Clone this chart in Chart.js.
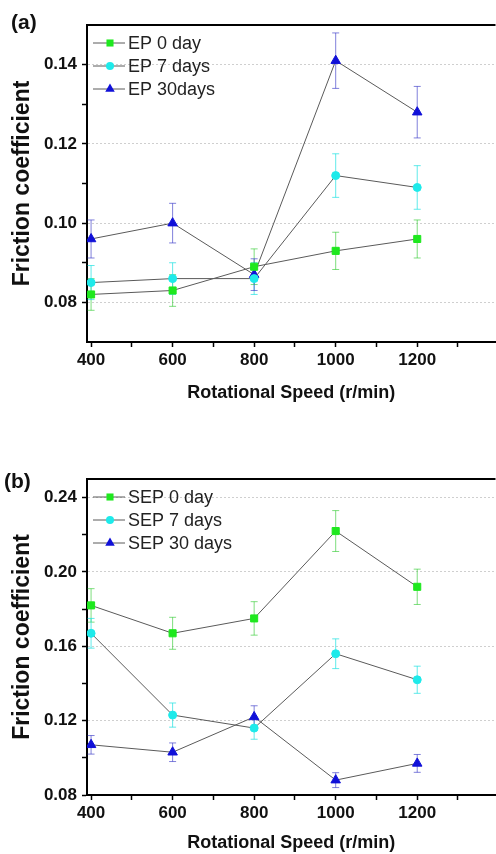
<!DOCTYPE html>
<html>
<head>
<meta charset="utf-8">
<title>Friction coefficient vs rotational speed</title>
<script src="https://cdn.jsdelivr.net/npm/chart.js@4.4.1/dist/chart.umd.min.js"></script>
<style>
    html, body { margin: 0; background: #fff; overflow: hidden; }
    .panel { position: relative; width: 502px; }
    #panelA { height: 420px; }
    #panelB { height: 434px; }
</style>
</head>
<body>
<div class="panel" id="panelA"><canvas id="chartA"></canvas></div>
<div class="panel" id="panelB"><canvas id="chartB"></canvas></div>
<script>
// ===== DATA =====
const speeds = [400, 600, 800, 1000, 1200];

const ep0 = [0.082, 0.083, 0.089, 0.093, 0.096];
const ep0Err = [0.004, 0.004, 0.0045, 0.0047, 0.0048];
const ep7 = [0.085, 0.086, 0.086, 0.112, 0.109];
const ep7Err = [0.0043, 0.004, 0.004, 0.0055, 0.0055];
const ep30 = [0.096, 0.100, 0.087, 0.141, 0.128];
const ep30Err = [0.0048, 0.005, 0.004, 0.007, 0.0065];

const sep0 = [0.182, 0.167, 0.175, 0.222, 0.192];
const sep0Err = [0.009, 0.0086, 0.009, 0.011, 0.0095];
const sep7 = [0.167, 0.123, 0.116, 0.156, 0.142];
const sep7Err = [0.008, 0.0065, 0.006, 0.008, 0.0073];
const sep30 = [0.107, 0.103, 0.122, 0.088, 0.097];
const sep30Err = [0.005, 0.005, 0.006, 0.004, 0.0048];

const labelsA = ['EP 0 day', 'EP 7 days', 'EP 30days'];
const labelsB = ['SEP 0 day', 'SEP 7 days', 'SEP 30 days'];

// tick values (labelled majors + unlabelled minors)
const xMajor = [400, 600, 800, 1000, 1200];
const xMinor = [500, 700, 900, 1100, 1300];
const yMajorA = [0.08, 0.10, 0.12, 0.14];
const yMinorA = [0.09, 0.11, 0.13];
const yMajorB = [0.08, 0.12, 0.16, 0.20, 0.24];
const yMinorB = [0.10, 0.14, 0.18, 0.22];

const GREEN = '#1ee81e';
const CYAN = '#1eeaea';
const BLUE = '#1010d8';
const FONT = '"Liberation Sans", Arial, sans-serif';

Chart.defaults.font.family = FONT;
Chart.defaults.color = '#111';

// ===== HELPERS =====
const toPoints = (ys) => speeds.map((x, i) => ({ x: x, y: ys[i] }));
const tickList = (major, minor) => major.concat(minor).sort((a, b) => a - b).map(v => ({ value: v }));

const makeSet = (label, ys, errs, color, errColor, style, radius) => ({
    label: label,
    data: toPoints(ys),
    errors: errs,
    errColor: errColor,
    borderColor: '#5a5a5a',
    borderWidth: 1,
    pointStyle: style,
    pointRadius: radius,
    pointHoverRadius: radius,
    pointBackgroundColor: color,
    pointBorderColor: color,
    pointBorderWidth: 1
});

function drawMarker(ctx, style, x, y, r, color) {
    ctx.fillStyle = color;
    ctx.beginPath();
    if (style === 'rect') {
        const s = r * Math.SQRT1_2;
        ctx.rect(x - s, y - s, 2 * s, 2 * s);
    } else if (style === 'triangle') {
        ctx.moveTo(x, y - r);
        ctx.lineTo(x + r * 0.866, y + r * 0.5);
        ctx.lineTo(x - r * 0.866, y + r * 0.5);
        ctx.closePath();
    } else {
        ctx.arc(x, y, r, 0, Math.PI * 2);
    }
    ctx.fill();
}

// error bars, inner legend, top frame line, panel letter
const panelPlugin = {
    id: 'panelExtras',
    beforeDatasetsDraw(chart) {
        const ctx = chart.ctx;
        const yScale = chart.scales.y;
        chart.data.datasets.forEach((ds, di) => {
            const meta = chart.getDatasetMeta(di);
            ctx.save();
            ctx.strokeStyle = ds.errColor;
            ctx.lineWidth = 1;
            meta.data.forEach((pt, i) => {
                const v = ds.data[i].y;
                const e = ds.errors[i];
                const yTop = yScale.getPixelForValue(v + e);
                const yBot = yScale.getPixelForValue(v - e);
                ctx.beginPath();
                ctx.moveTo(pt.x, yTop);
                ctx.lineTo(pt.x, yBot);
                ctx.moveTo(pt.x - 3.5, yTop);
                ctx.lineTo(pt.x + 3.5, yTop);
                ctx.moveTo(pt.x - 3.5, yBot);
                ctx.lineTo(pt.x + 3.5, yBot);
                ctx.stroke();
            });
            ctx.restore();
        });
    },
    afterDraw(chart, args, opts) {
        const ctx = chart.ctx;
        const area = chart.chartArea;

        // top frame
        ctx.save();
        ctx.strokeStyle = '#000';
        ctx.lineWidth = 2;
        ctx.beginPath();
        ctx.moveTo(area.left - 1, area.top);
        ctx.lineTo(area.right, area.top);
        ctx.stroke();

        // legend
        ctx.font = '18px ' + FONT;
        ctx.textBaseline = 'middle';
        ctx.textAlign = 'left';
        chart.data.datasets.forEach((ds, i) => {
            const y = area.top + 18 + i * 23;
            ctx.strokeStyle = '#5a5a5a';
            ctx.lineWidth = 1;
            ctx.beginPath();
            ctx.moveTo(area.left + 6, y);
            ctx.lineTo(area.left + 38, y);
            ctx.stroke();
            drawMarker(ctx, ds.pointStyle, area.left + 23, y, ds.pointRadius, ds.pointBackgroundColor);
            ctx.fillStyle = '#222';
            ctx.fillText(ds.label, area.left + 41, y + 1);
        });

        // panel letter
        ctx.font = 'bold 21px ' + FONT;
        ctx.fillStyle = '#111';
        ctx.fillText(opts.letter, opts.letterX, opts.letterY);
        ctx.restore();
    }
};

function buildOptions(cfg) {
    return {
        responsive: true,
        maintainAspectRatio: false,
        animation: false,
        layout: { padding: { top: cfg.top, right: 0, left: 0, bottom: 0 } },
        plugins: {
            legend: { display: false },
            tooltip: { enabled: false },
            panelExtras: { letter: cfg.letter, letterX: cfg.letterX, letterY: cfg.letterY }
        },
        scales: {
            x: {
                type: 'linear',
                min: 390,
                max: 1392,
                afterBuildTicks: function(scale) { scale.ticks = tickList(xMajor, xMinor); },
                afterFit: function(scale) { scale.height = cfg.xHeight; },
                ticks: {
                    autoSkip: false,
                    maxRotation: 0,
                    padding: 3,
                    color: '#111',
                    font: { size: 17, weight: 'bold' },
                    callback: function(value) {
                        return xMajor.includes(value) ? String(value) : '';
                    }
                },
                grid: {
                    drawOnChartArea: false,
                    tickLength: 5,
                    tickColor: '#000',
                    tickWidth: 1.5
                },
                border: { color: '#000', width: 2 },
                title: {
                    display: true,
                    text: 'Rotational Speed (r/min)',
                    color: '#111',
                    font: { size: 18, weight: 'bold' },
                    padding: { top: 0, bottom: cfg.xTitlePad }
                }
            },
            y: {
                min: cfg.yMin,
                max: cfg.yMax,
                afterBuildTicks: function(scale) { scale.ticks = tickList(cfg.yMajor, cfg.yMinor); },
                afterFit: function(scale) { scale.width = 87; },
                ticks: {
                    autoSkip: false,
                    padding: 5,
                    color: '#111',
                    font: { size: 17, weight: 'bold' },
                    callback: function(value) {
                        return cfg.yMajor.includes(value) ? value.toFixed(2) : '';
                    }
                },
                grid: {
                    tickLength: 5,
                    tickWidth: 1.5,
                    tickColor: '#000',
                    lineWidth: 1,
                    color: function(ctx) {
                        if (!ctx.tick) return 'rgba(0,0,0,0)';
                        return cfg.yMajor.includes(ctx.tick.value) ? '#cfcfcf' : 'rgba(0,0,0,0)';
                    }
                },
                border: { color: '#000', width: 2, dash: [2, 2] },
                title: {
                    display: true,
                    text: 'Friction coefficient',
                    color: '#111',
                    font: { size: 23, weight: 'bold' },
                    padding: { top: 9, bottom: 0 }
                }
            }
        }
    };
}

// ===== PANEL (a) =====
new Chart(document.getElementById('chartA'), {
    type: 'line',
    data: {
        datasets: [
            makeSet(labelsA[0], ep0, ep0Err, GREEN, 'rgba(40, 200, 40, 0.6)', 'rect', 5),
            makeSet(labelsA[1], ep7, ep7Err, CYAN, 'rgba(30, 225, 225, 0.7)', 'circle', 4),
            makeSet(labelsA[2], ep30, ep30Err, BLUE, 'rgba(60, 60, 200, 0.65)', 'triangle', 5.5)
        ]
    },
    options: buildOptions({
        top: 25, xHeight: 78, xTitlePad: 16,
        yMin: 0.07, yMax: 0.15, yMajor: yMajorA, yMinor: yMinorA,
        letter: '(a)', letterX: 11, letterY: 23
    }),
    plugins: [panelPlugin]
});

// ===== PANEL (b) =====
new Chart(document.getElementById('chartB'), {
    type: 'line',
    data: {
        datasets: [
            makeSet(labelsB[0], sep0, sep0Err, GREEN, 'rgba(40, 200, 40, 0.6)', 'rect', 5),
            makeSet(labelsB[1], sep7, sep7Err, CYAN, 'rgba(30, 225, 225, 0.7)', 'circle', 4),
            makeSet(labelsB[2], sep30, sep30Err, BLUE, 'rgba(60, 60, 200, 0.65)', 'triangle', 5.5)
        ]
    },
    options: buildOptions({
        top: 59, xHeight: 59, xTitlePad: 0,
        yMin: 0.08, yMax: 0.25, yMajor: yMajorB, yMinor: yMinorB,
        letter: '(b)', letterX: 4, letterY: 62
    }),
    plugins: [panelPlugin]
});
</script>
</body>
</html>
